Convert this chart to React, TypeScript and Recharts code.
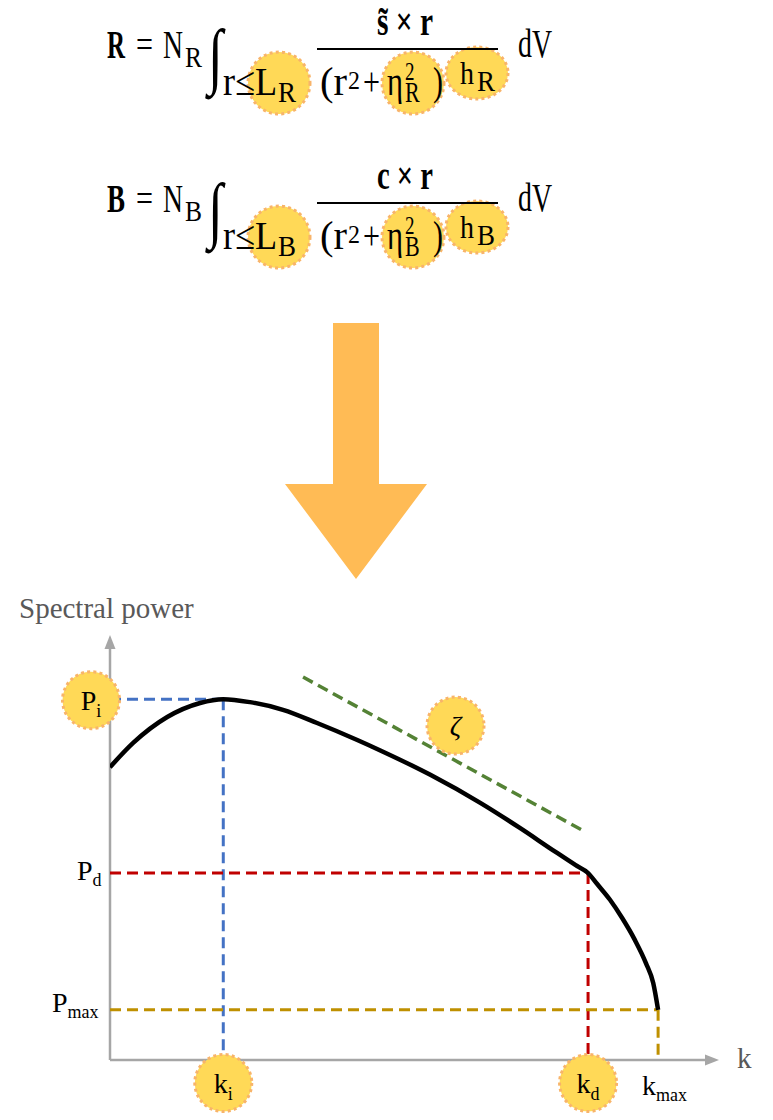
import React from 'react';
import { ComposedChart, Line, XAxis, YAxis, ReferenceLine, ReferenceDot } from 'recharts';

// ---------- data (chart units: k and power on 0..100 scales) ----------
const kValues = [0, 3.8, 9.4, 14.8, 18.6, 23.0, 28.4, 34.0, 40.6, 44.3, 52.6, 60.8, 67.3, 72.7, 76.4, 78.5, 80.0, 82.1, 84.1, 86.2, 88.0, 89.2, 90.0];
const powerValues = [68.9, 74.6, 80.7, 84.0, 84.9, 84.2, 82.4, 79.3, 75.3, 72.9, 67.1, 60.5, 54.6, 49.4, 45.9, 44.0, 41.4, 37.7, 33.4, 28.2, 22.8, 18.1, 11.8];
const curveData = kValues.map((k, i) => ({ k, p: powerValues[i] }));

const kI = 18.6;
const kD = 78.5;
const kMax = 90.0;
const pI = 84.9;
const pD = 44.0;
const pMax = 11.8;
const slopeStart = { x: 31.7, y: 90.1 };
const slopeEnd = { x: 77.5, y: 54.1 };
const axisMax = 100;

const yAxisTitle = 'Spectral power';
const xAxisTitle = 'k';

const formulaLetters = ['R', 'B'];
const formulaNumerators = ['s\u0303 \u00d7 r', 'c \u00d7 r'];

// ---------- styles ----------
const SERIF = '"Liberation Serif", "Times New Roman", serif';
const CIRCLE_FILL = '#FFD957';
const CIRCLE_STROKE = '#F8B46A';
const AXIS_GRAY = '#A6A6A6';
const LABEL_GRAY = '#595959';

const W = 773;
const H = 1120;
const MARGIN = { top: 635, right: 54, bottom: 60, left: 110 };
const SY = 1.35;

type BadgeOpts = { dx?: number; dy?: number; base?: number; italic?: boolean };

const badge = (main: string, sub: string | null, opts: BadgeOpts) => (props: any) => {
  const bx = props.cx + (opts.dx || 0);
  const by = props.cy + (opts.dy || 0);
  return (
    <g>
      <circle cx={bx} cy={by} r={28.5} fill={CIRCLE_FILL} stroke={CIRCLE_STROKE} strokeWidth={3} strokeDasharray="3 3.2" />
      <text
        x={bx}
        y={by + (opts.base ?? 10)}
        textAnchor="middle"
        fontFamily={SERIF}
        fontSize={28}
        fontStyle={opts.italic ? 'italic' : 'normal'}
        fill="#000"
      >
        {main}
        {sub ? (
          <tspan fontSize={18} dy={7}>
            {sub}
          </tspan>
        ) : null}
      </text>
    </g>
  );
};

const plainLabel = (main: string, sub: string | null, opts: { dx: number; dy: number; anchor: string; color?: string; fs?: number }) => (props: any) => (
  <text
    x={props.cx + opts.dx}
    y={props.cy + opts.dy}
    textAnchor={opts.anchor as any}
    fontFamily={SERIF}
    fontSize={opts.fs ?? 28}
    fill={opts.color ?? '#000'}
  >
    {main}
    {sub ? (
      <tspan fontSize={18} dy={6}>
        {sub}
      </tspan>
    ) : null}
  </text>
);

const xArrowHead = (props: any) => (
  <polygon points={`${props.cx},${props.cy} ${props.cx - 14},${props.cy - 5.5} ${props.cx - 14},${props.cy + 5.5}`} fill={AXIS_GRAY} />
);
const yArrowHead = (props: any) => (
  <polygon points={`${props.cx},${props.cy} ${props.cx - 5.5},${props.cy + 14} ${props.cx + 5.5},${props.cy + 14}`} fill={AXIS_GRAY} />
);

// ---------- formula overlay ----------
const FT = ({ x, y, fs = 30, bold = false, anchor = 'start', w, children }: any) => (
  <text
    transform={`translate(${x} ${y}) scale(1 ${SY})`}
    fontSize={fs}
    fontFamily={SERIF}
    fontWeight={bold ? 700 : 400}
    textAnchor={anchor}
    fill="#000"
    {...(w ? { textLength: w, lengthAdjust: 'spacingAndGlyphs' } : {})}
  >
    {children}
  </text>
);

const Formula = ({ letter, numerator, dy }: { letter: string; numerator: string; dy: number }) => (
  <g>
    <ellipse cx={279} cy={83 + dy} rx={31} ry={31} fill={CIRCLE_FILL} stroke={CIRCLE_STROKE} strokeWidth={3} strokeDasharray="3 3.2" />
    <ellipse cx={413} cy={83 + dy} rx={31} ry={31} fill={CIRCLE_FILL} stroke={CIRCLE_STROKE} strokeWidth={3} strokeDasharray="3 3.2" />
    <ellipse cx={477} cy={73 + dy} rx={31} ry={26} fill={CIRCLE_FILL} stroke={CIRCLE_STROKE} strokeWidth={3} strokeDasharray="3 3.2" />
    <FT x={107} y={58 + dy} bold w={18}>{letter}</FT>
    <FT x={136} y={58 + dy} w={17}>=</FT>
    <FT x={163} y={58 + dy} w={20}>N</FT>
    <FT x={185} y={67 + dy} fs={22} w={17}>{letter}</FT>
    <FT x={208} y={80 + dy} fs={54}>{'\u222B'}</FT>
    <FT x={223} y={95 + dy} w={54}>{'r\u2264L'}</FT>
    <FT x={278} y={102 + dy} fs={22} w={18}>{letter}</FT>
    <line x1={317} x2={498} y1={49 + dy} y2={49 + dy} stroke="#000" strokeWidth={2} />
    <FT x={405} y={35 + dy} bold anchor="middle" w={56}>{numerator}</FT>
    <FT x={320} y={95 + dy} w={27}>(r</FT>
    <FT x={348} y={89 + dy} fs={19} w={12}>2</FT>
    <FT x={363} y={95 + dy} w={17}>+</FT>
    <FT x={387} y={95 + dy} w={16}>{'\u03b7'}</FT>
    <text transform={`translate(405 ${dy}) scale(1 ${SY})`} fontFamily={SERIF} fill="#000">
      <tspan x={0} y={80 / SY} fontSize={19}>2</tspan>
      <tspan x={0} y={102 / SY} fontSize={22}>{letter}</tspan>
    </text>
    <FT x={433} y={95 + dy} w={10}>)</FT>
    <FT x={460} y={84 + dy} fs={23} w={14}>h</FT>
    <FT x={477} y={91 + dy} fs={22} w={18}>{letter}</FT>
    <FT x={518} y={57 + dy} w={34}>dV</FT>
  </g>
);

const Overlay = () => (
  <svg width={W} height={600} style={{ position: 'absolute', left: 0, top: 0 }}>
    {formulaLetters.map((l, i) => (
      <Formula key={l} letter={l} numerator={formulaNumerators[i]} dy={i * 154} />
    ))}
    <polygon points="333,323 379,323 379,484 427,484 356,579 285,484 333,484" fill="#FFBB55" />
  </svg>
);

export default function App() {
  return (
    <div style={{ position: 'absolute', left: 0, top: 0, width: W, height: H, background: '#fff' }}>
      <Overlay />
      <div style={{ position: 'absolute', left: 0, top: 0 }}>
        <ComposedChart width={W} height={H} data={curveData} margin={MARGIN}>
          <XAxis dataKey="k" type="number" domain={[0, axisMax]} hide allowDataOverflow />
          <YAxis type="number" domain={[0, axisMax]} hide allowDataOverflow />

          {/* axes */}
          <ReferenceLine segment={[{ x: 0, y: 0 }, { x: 98, y: 0 }]} stroke={AXIS_GRAY} strokeWidth={2.5} ifOverflow="visible" />
          <ReferenceLine segment={[{ x: 0, y: 0 }, { x: 0, y: 97.5 }]} stroke={AXIS_GRAY} strokeWidth={2.5} ifOverflow="visible" />
          <ReferenceDot x={axisMax} y={0} r={0} ifOverflow="visible" shape={xArrowHead} />
          <ReferenceDot x={0} y={axisMax} r={0} ifOverflow="visible" shape={yArrowHead} />

          {/* guide lines */}
          <ReferenceLine segment={[{ x: 0, y: pI }, { x: kI, y: pI }]} stroke="#4472C4" strokeWidth={3} strokeDasharray="11 6" ifOverflow="visible" />
          <ReferenceLine segment={[{ x: kI, y: pI }, { x: kI, y: 0 }]} stroke="#4472C4" strokeWidth={3} strokeDasharray="11 6" ifOverflow="visible" />
          <ReferenceLine segment={[{ x: 0, y: pD }, { x: kD, y: pD }]} stroke="#C00000" strokeWidth={3} strokeDasharray="11 6" ifOverflow="visible" />
          <ReferenceLine segment={[{ x: kD, y: pD }, { x: kD, y: 0 }]} stroke="#C00000" strokeWidth={3} strokeDasharray="11 6" ifOverflow="visible" />
          <ReferenceLine segment={[{ x: 0, y: pMax }, { x: kMax, y: pMax }]} stroke="#BF9000" strokeWidth={3} strokeDasharray="11 6" ifOverflow="visible" />
          <ReferenceLine segment={[{ x: kMax, y: pMax }, { x: kMax, y: 0 }]} stroke="#BF9000" strokeWidth={3} strokeDasharray="11 6" ifOverflow="visible" />
          <ReferenceLine segment={[slopeStart, slopeEnd]} stroke="#548235" strokeWidth={3.5} strokeDasharray="11 6" ifOverflow="visible" />

          <Line dataKey="p" type="monotone" stroke="#000" strokeWidth={4.5} dot={false} isAnimationActive={false} />

          {/* labels */}
          <ReferenceDot x={0} y={axisMax} r={0} ifOverflow="visible" shape={plainLabel(yAxisTitle, null, { dx: -91, dy: -17, anchor: 'start', color: LABEL_GRAY, fs: 29 })} />
          <ReferenceDot x={axisMax} y={0} r={0} ifOverflow="visible" shape={plainLabel(xAxisTitle, null, { dx: 18, dy: 8, anchor: 'start', color: LABEL_GRAY, fs: 29 })} />
          <ReferenceDot x={0} y={pD} r={0} ifOverflow="visible" shape={plainLabel('P', 'd', { dx: -33, dy: 7, anchor: 'start' })} />
          <ReferenceDot x={0} y={pMax} r={0} ifOverflow="visible" shape={plainLabel('P', 'max', { dx: -58, dy: 2, anchor: 'start' })} />
          <ReferenceDot x={kMax} y={0} r={0} ifOverflow="visible" shape={plainLabel('k', 'max', { dx: -16, dy: 35, anchor: 'start' })} />

          <ReferenceDot x={0} y={pI} r={0} ifOverflow="visible" shape={badge('P', 'i', { dx: -19, dy: 1, base: 10 })} />
          <ReferenceDot x={kI} y={0} r={0} ifOverflow="visible" shape={badge('k', 'i', { dx: 0, dy: 23, base: 10 })} />
          <ReferenceDot x={kD} y={0} r={0} ifOverflow="visible" shape={badge('k', 'd', { dx: 0, dy: 23, base: 10 })} />
          <ReferenceDot
            x={(slopeStart.x + slopeEnd.x) / 2}
            y={(slopeStart.y + slopeEnd.y) / 2}
            r={0}
            ifOverflow="visible"
            shape={badge('\u03b6', null, { dx: 13, dy: -28, base: 9, italic: true })}
          />
        </ComposedChart>
      </div>
    </div>
  );
}
